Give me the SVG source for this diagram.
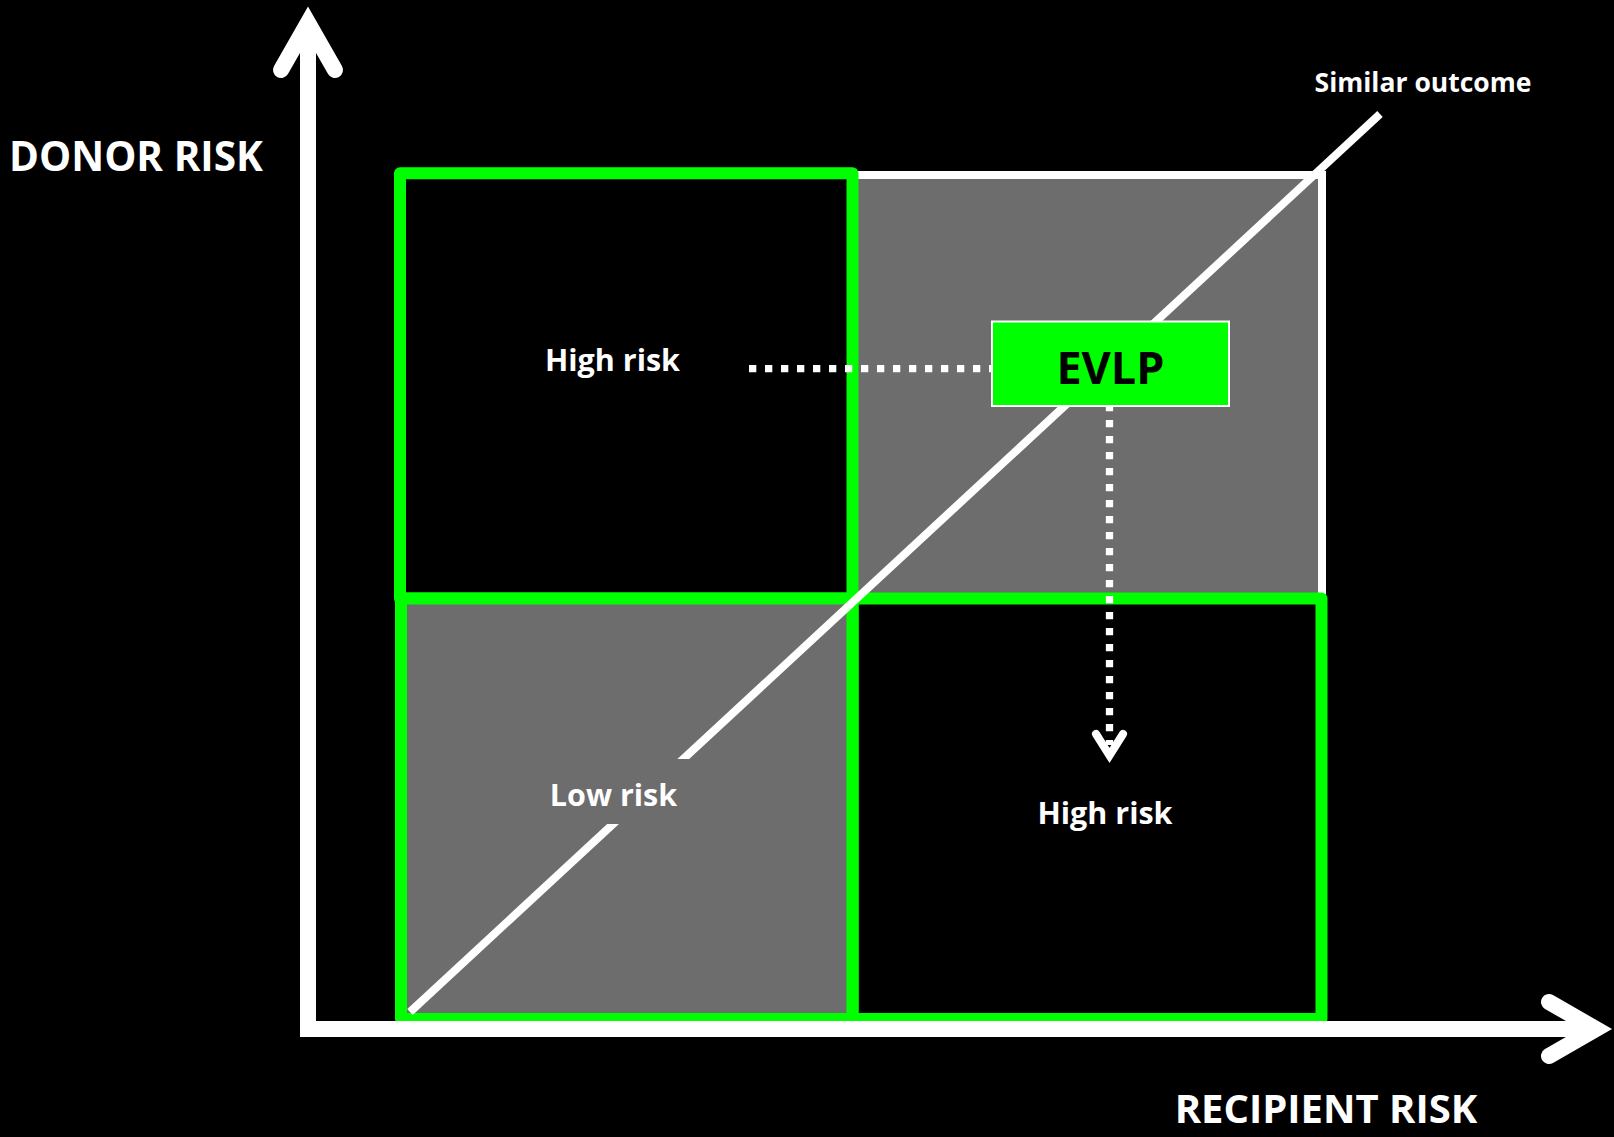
<svg xmlns="http://www.w3.org/2000/svg" width="1614" height="1137" viewBox="0 0 1614 1137">
<style>
.g{stroke:#00ff00;stroke-width:12;stroke-linejoin:round}
.t{font-family:"Open Sans","Liberation Sans",sans-serif;font-weight:bold;fill:#ffffff}
.dot{stroke:#ffffff;stroke-width:7.3;stroke-dasharray:7.3 8.7;fill:none}
.ax{stroke:#ffffff;stroke-width:16;fill:none}
</style>
<rect x="0" y="0" width="1614" height="1137" fill="#000000"/>
<g id="quad-top-right">
<rect x="853" y="175" width="469" height="423" fill="#6d6d6d" stroke="#ffffff" stroke-width="8"/>
</g>
<g id="quad-top-left">
<rect class="g" x="400" y="173.3" width="452.5" height="425.2" fill="#000000"/>
<text class="t" x="612.5" y="371" font-size="30.5" text-anchor="middle">High risk</text>
</g>
<g id="quad-bottom-left">
<rect class="g" x="401" y="598.5" width="451.5" height="420.5" fill="#6d6d6d"/>
</g>
<g id="quad-bottom-right">
<rect class="g" x="852.8" y="598.5" width="468.7" height="420.5" fill="#000000"/>
<text class="t" x="1105" y="823.5" font-size="30.5" text-anchor="middle">High risk</text>
</g>
<g id="similar-outcome">
<line x1="410" y1="1012" x2="1380" y2="114" stroke="#ffffff" stroke-width="8"/>
<text class="t" x="1423" y="91.7" font-size="26.5" text-anchor="middle">Similar outcome</text>
</g>
<g id="low-risk">
<rect x="545" y="759" width="160" height="65" fill="#6d6d6d"/>
<text class="t" x="613.5" y="806" font-size="30.5" text-anchor="middle">Low risk</text>
</g>
<g id="connectors">
<line class="dot" x1="749" y1="368.7" x2="992" y2="368.7"/>
<line class="dot" x1="1109.5" y1="404" x2="1109.5" y2="745"/>
<path d="M1096,734 L1109.5,755.5 L1123,734" stroke="#ffffff" stroke-width="8" fill="none" stroke-linecap="round" stroke-linejoin="miter"/>
</g>
<g id="evlp">
<rect x="992" y="321.5" width="237" height="84.5" fill="#00ff00" stroke="#ffffff" stroke-width="2"/>
<text x="1110.5" y="384" font-size="45" text-anchor="middle" font-family="'Open Sans','Liberation Sans',sans-serif" font-weight="bold" fill="#000000">EVLP</text>
</g>
<g id="axes">
<line class="ax" x1="308" y1="28" x2="308" y2="1037"/>
<line class="ax" x1="300" y1="1029" x2="1594" y2="1029"/>
<path class="ax" d="M281,70 L308,22.7 L335,70" stroke-linecap="round" stroke-linejoin="miter"/>
<path class="ax" d="M1549,1002 L1596,1029 L1549,1056" stroke-linecap="round" stroke-linejoin="miter"/>
</g>
<g id="axis-labels">
<text class="t" x="9" y="170.7" font-size="40.5">DONOR RISK</text>
<text class="t" x="1326" y="1123.3" font-size="40" text-anchor="middle">RECIPIENT RISK</text>
</g>
</svg>
